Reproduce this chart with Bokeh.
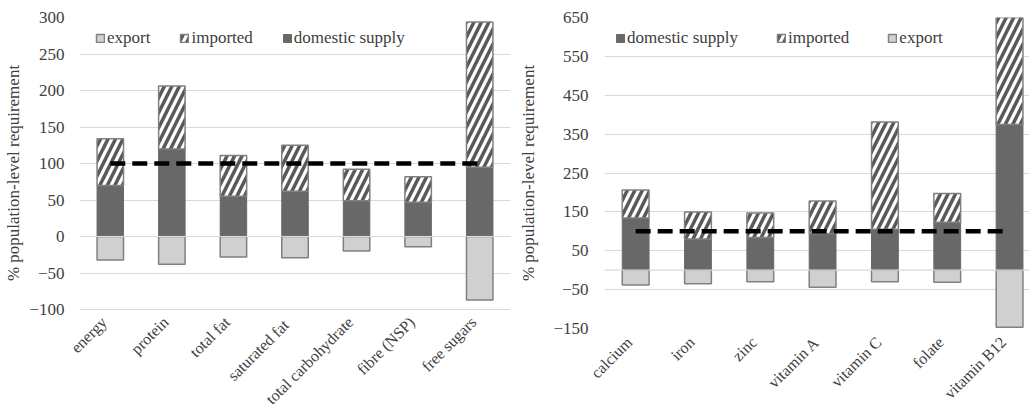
from bokeh.plotting import figure
from bokeh.models import (FixedTicker, Range1d, Legend, LegendItem, Span,
                          ColumnDataSource)
from bokeh.layouts import row
from bokeh.embed import file_html
from bokeh.resources import INLINE

# ---------------- data ----------------
MACRO = ["energy", "protein", "total fat", "saturated  fat",
         "total carbohydrate", "fibre (NSP)", "free sugars"]
MACRO_DOMESTIC = [70, 120, 55, 62, 49, 47, 95]
MACRO_IMPORTED = [64, 86, 56, 63, 43, 35, 199]
MACRO_EXPORT = [-32, -38, -28, -29, -20, -14, -87]
MACRO_TICKS = [-100, -50, 0, 50, 100, 150, 200, 250, 300]

MICRO = ["calcium", "iron", "zinc", "vitamin A", "vitamin C", "folate",
         "vitamin B12"]
MICRO_DOMESTIC = [134, 80, 84, 94, 105, 123, 375]
MICRO_IMPORTED = [72, 70, 63, 84, 276, 74, 281]
MICRO_EXPORT = [-38, -35, -30, -44, -30, -31, -147]
MICRO_TICKS = [-150, -50, 50, 150, 250, 350, 450, 550, 650]

REQUIREMENT = 100
Y_TITLE = "% population-level requirement"

# ---------------- style ----------------
FONT = "Liberation Serif"
TXT = "#404040"
DOM = "#686868"
EXP = "#d0d0d0"
BORDER = "#808080"
HATCH = "#595959"
GRID = "#d9d9d9"
H = 418
MB_TOP = 17
FRAME_H = 311
LABEL_SHIFT = 0.1   # small leftward nudge of rotated category labels


def make_chart(cats, dom, imp, exp, ticks, y_start, width, mb_left,
               mb_right, x_end, x_standoff, y_standoff, title_standoff,
               order, spacing, leg_x, leg_top):
    n = len(cats)
    idx = list(range(n))
    top = [d + i for d, i in zip(dom, imp)]
    src = ColumnDataSource(dict(x=idx, dom=dom, top=top, exp=exp))
    p = figure(width=width, height=H,
               x_range=Range1d(-0.5, x_end),
               y_range=Range1d(y_start, ticks[-1]),
               output_backend="svg", toolbar_location=None,
               min_border_left=mb_left, min_border_right=mb_right,
               min_border_top=MB_TOP,
               min_border_bottom=H - MB_TOP - FRAME_H)
    p.outline_line_color = None
    p.background_fill_color = "white"
    p.border_fill_color = "white"

    bw = 0.43
    r_dom = p.vbar(x="x", bottom=0, top="dom", width=bw, source=src,
                   fill_color=DOM, line_color=DOM, line_width=1)
    r_imp = p.vbar(x="x", bottom="dom", top="top", width=bw, source=src,
                   fill_color="white", line_color=BORDER, line_width=1.5,
                   hatch_pattern="/", hatch_color=HATCH, hatch_weight=3.5,
                   hatch_scale=15)
    r_exp = p.vbar(x="x", bottom="exp", top=0, width=bw, source=src,
                   fill_color=EXP, line_color=BORDER, line_width=1.5)

    p.line(x=[idx[0], idx[-1]], y=[REQUIREMENT, REQUIREMENT],
           line_color="black", line_width=4.5, line_dash="15 7")

    p.add_layout(Span(location=0, dimension="width", line_color=GRID,
                      line_width=1.2), "center")

    # axes
    tick_pos = [i - LABEL_SHIFT for i in idx]
    p.xaxis.ticker = FixedTicker(ticks=tick_pos)
    p.xaxis.major_label_overrides = {t: c for t, c in zip(tick_pos, cats)}
    p.xaxis.major_label_orientation = 0.785398
    p.xaxis.major_label_text_font = FONT
    p.xaxis.major_label_text_font_size = "16px"
    p.xaxis.major_label_text_color = TXT
    p.xaxis.major_label_standoff = x_standoff
    p.xaxis.axis_line_color = None
    p.xaxis.major_tick_line_color = None
    p.xaxis.minor_tick_line_color = None

    p.yaxis.ticker = FixedTicker(ticks=ticks)
    p.yaxis.major_label_text_font = FONT
    p.yaxis.major_label_text_font_size = "17px"
    p.yaxis.major_label_text_color = TXT
    p.yaxis.major_label_standoff = y_standoff
    p.yaxis.axis_line_color = None
    p.yaxis.major_tick_line_color = None
    p.yaxis.minor_tick_line_color = None
    p.yaxis.axis_label = Y_TITLE
    p.yaxis.axis_label_text_font = FONT
    p.yaxis.axis_label_text_font_style = "normal"
    p.yaxis.axis_label_text_font_size = "17px"
    p.yaxis.axis_label_text_color = TXT
    p.yaxis.axis_label_standoff = title_standoff

    p.xgrid.grid_line_color = None
    p.ygrid.grid_line_color = GRID
    p.ygrid.grid_line_width = 1.2

    rmap = {"domestic supply": r_dom, "imported": r_imp, "export": r_exp}
    items = [LegendItem(label=k, renderers=[rmap[k]]) for k in order]
    leg_h = 20
    legend = Legend(items=items, orientation="horizontal",
                    location=(leg_x, FRAME_H - leg_top - leg_h),
                    glyph_width=10, glyph_height=10, label_height=leg_h,
                    label_standoff=2, spacing=spacing, padding=0, margin=0,
                    border_line_color=None, background_fill_alpha=0,
                    label_text_font=FONT, label_text_font_size="17px",
                    label_text_color=TXT)
    p.add_layout(legend)
    return p


left = make_chart(MACRO, MACRO_DOMESTIC, MACRO_IMPORTED, MACRO_EXPORT,
                  MACRO_TICKS, y_start=-126, width=515, mb_left=79,
                  mb_right=5, x_end=6.5, x_standoff=-15, y_standoff=9,
                  title_standoff=3,
                  order=["export", "imported", "domestic supply"],
                  spacing=29, leg_x=16, leg_top=11)
right = make_chart(MICRO, MICRO_DOMESTIC, MICRO_IMPORTED, MICRO_EXPORT,
                   MICRO_TICKS, y_start=MICRO_TICKS[0], width=514,
                   mb_left=89, mb_right=0, x_end=6.32, x_standoff=5,
                   y_standoff=10, title_standoff=12,
                   order=["domestic supply", "imported", "export"],
                   spacing=38, leg_x=11, leg_top=11)

layout = row(left, right)
open("out.html", "w").write(file_html(layout, INLINE))
